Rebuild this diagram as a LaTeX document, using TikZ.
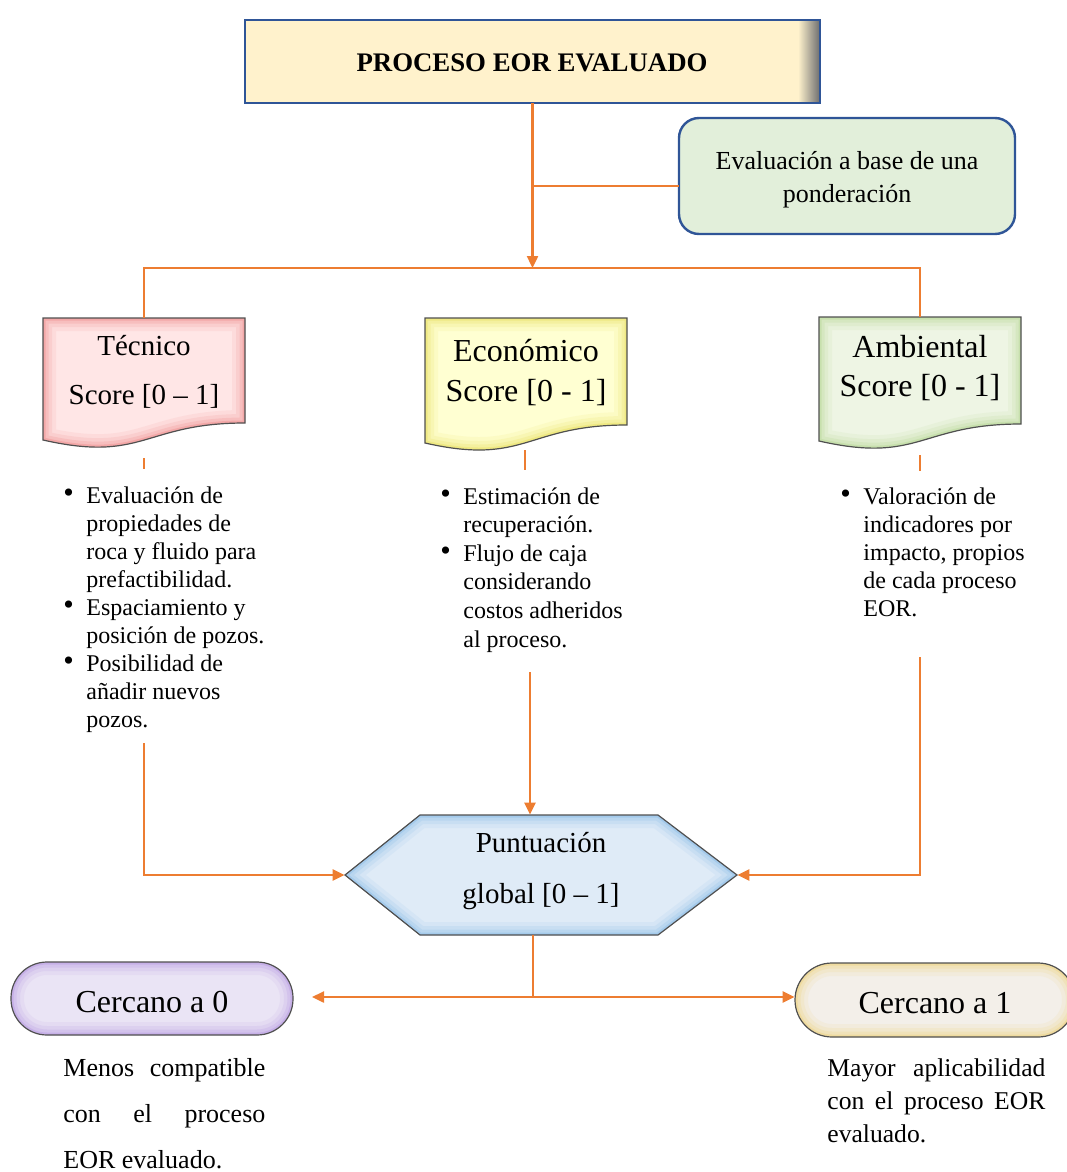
\documentclass[tikz,border=0pt]{standalone}
\usepackage{fontspec}
\setmainfont{Liberation Serif}
\usetikzlibrary{arrows.meta,fit,calc}
\definecolor{orng}{HTML}{ED7D31}
\definecolor{dblue}{HTML}{2F5597}
\definecolor{topfill}{HTML}{FFF2CC}
\definecolor{grnfill}{HTML}{E2EFDA}
\definecolor{tecfill}{HTML}{FFE6E6}
\definecolor{tecedge}{HTML}{EE8080}
\definecolor{ecofill}{HTML}{FFFFD2}
\definecolor{ecoedge}{HTML}{E6DC50}
\definecolor{ambfill}{HTML}{EEF5E4}
\definecolor{ambedge}{HTML}{AFD38A}
\definecolor{hexfill}{HTML}{DFEBF7}
\definecolor{hexedge}{HTML}{7FB6E6}
\definecolor{t0fill}{HTML}{EAE4F5}
\definecolor{t0edge}{HTML}{B08FE0}
\definecolor{t1fill}{HTML}{F3EFE9}
\definecolor{t1edge}{HTML}{EFCF70}
\definecolor{bgray}{HTML}{505050}
\newcommand\bevelshape[3]{%
  \fill[#2] #1;
  \begin{scope}
    \clip #1;
    \draw[#3, line width=13pt, opacity=.10] #1;
    \draw[#3, line width=9pt, opacity=.14] #1;
    \draw[#3, line width=5.5pt, opacity=.2] #1;
    \draw[#3, line width=2.5pt, opacity=.35] #1;
  \end{scope}
  \draw[bgray, line width=.6pt] #1;}
\newcommand\bitem[1]{\par\hangindent=12pt\hangafter=1\noindent\makebox[12pt][l]{\hspace{0.5pt}\raisebox{0.02em}{\fontsize{15}{15}\selectfont\textbullet}}#1\par}
\newcommand\bultext[2]{\parbox[t]{#1}{\raggedright #2}}
\tikzset{
  conn/.style={draw=orng, line width=1.2pt},
  arr/.style={conn, -{Triangle[length=6pt,width=5.5pt]}},
  ghost/.style={inner sep=0pt, draw=none},
  bul/.style={inner sep=0pt, font=\fontsize{12}{14}\selectfont},
  doctext/.style={inner sep=0pt, align=center},
}
\begin{document}
\begin{tikzpicture}[x=0.5pt,y=-0.5pt]
\useasboundingbox (0,0) rectangle (1066,1172);

% ---------- top box
\fill[topfill] (245,20) rectangle (820,103);
\shade[left color=topfill, right color=black!55] (798,21) rectangle (819,102);
\draw[dblue, line width=1.3pt] (245,20) rectangle (820,103);
\node[ghost, fit={(245,20) (820,103)}] (top) {};
\node[inner sep=0pt, anchor=base, font=\bfseries\fontsize{13.4}{15}\selectfont] (topN) at (532,72) {PROCESO EOR EVALUADO};

% ---------- green box
\draw[dblue, line width=1.2pt, fill=grnfill, rounded corners=10pt] (679,118) rectangle (1015,234);
\node[ghost, fit={(679,118) (1015,234)}] (grn) {};
\node[doctext, anchor=base, font=\fontsize{13}{16.5}\selectfont] (grnT) at (847,202) {Evaluación a base de una\\ponderación};

% ---------- document shapes
\bevelshape{(43,318) -- (245,318) -- (245,423) .. controls (144,423) and (144,463) .. (43,440) -- cycle}{tecfill}{tecedge}
\node[ghost, fit={(43,318) (245,449)}] (tec) {};
\node[doctext, anchor=base, font=\fontsize{14.5}{24.5}\selectfont] (tecN) at (144,404) {Técnico\\Score [0 – 1]};

\bevelshape{(425,318) -- (627,318) -- (627,425) .. controls (526,425) and (526,466) .. (425,443) -- cycle}{ecofill}{ecoedge}
\node[ghost, fit={(425,318) (627,452)}] (eco) {};
\node[doctext, anchor=base, font=\fontsize{16}{20}\selectfont] (ecoN) at (526,401) {Económico\\Score [0 - 1]};

\bevelshape{(819,317) -- (1021,317) -- (1021,424) .. controls (920,424) and (920,464) .. (819,441) -- cycle}{ambfill}{ambedge}
\node[ghost, fit={(819,317) (1021,450)}] (amb) {};
\node[doctext, anchor=base, font=\fontsize{16}{19.5}\selectfont] (ambN) at (920,396) {Ambiental\\Score [0 - 1]};

% ---------- hexagon
\bevelshape{(345,875) -- (420,815) -- (658,815) -- (737,875) -- (658,935) -- (420,935) -- cycle}{hexfill}{hexedge}
\node[ghost, fit={(345,815) (737,935)}] (hex) {};
\node[doctext, anchor=base, font=\fontsize{14.5}{25.5}\selectfont] (hexN) at (541,903) {Puntuación\\global [0 – 1]};

% ---------- terminators
\bevelshape{(11,962) [rounded corners=18pt] rectangle (293,1035)}{t0fill}{t0edge}
\node[ghost, fit={(11,962) (293,1035)}] (t0) {};
\node[doctext, anchor=base, font=\fontsize{16}{18}\selectfont] (t0N) at (152,1012) {Cercano a 0};

\bevelshape{(795,963) [rounded corners=18.5pt] rectangle (1075,1037)}{t1fill}{t1edge}
\node[ghost, fit={(795,963) (1075,1037)}] (t1) {};
\node[doctext, anchor=base, font=\fontsize{16}{18}\selectfont] (t1N) at (935,1013) {Cercano a 1};

% ---------- bullet texts
\node[bul, anchor=base west] (tecT) at (62,503)
 {\bultext{104pt}{\bitem{Evaluación de\newline propiedades de\newline roca y fluido para\newline prefactibilidad.}%
  \bitem{Espaciamiento y\newline posición de pozos.}%
  \bitem{Posibilidad de\newline añadir nuevos\newline pozos.}}};
\node[bul, anchor=base west, font=\fontsize{12}{14.3}\selectfont] (ecoT) at (439,504)
 {\bultext{96pt}{\bitem{Estimación de\newline recuperación.}%
  \bitem{Flujo de caja\newline considerando\newline costos adheridos\newline al proceso.}}};
\node[bul, anchor=base west] (ambT) at (839,504)
 {\bultext{96pt}{\bitem{Valoración de\newline indicadores por\newline impacto, propios\newline de cada proceso\newline EOR.}}};

% ---------- bottom texts
\node[bul, anchor=base west, font=\fontsize{13}{23}\selectfont] (t0T) at (63,1076)
 {\parbox[t]{101pt}{\hbox to 101pt{Menos\hfill compatible}\par\hbox to 101pt{con\hfill el\hfill proceso}\par\hbox{EOR evaluado.}}};
\node[bul, anchor=base west, font=\fontsize{12.8}{16.5}\selectfont] (t1T) at (827,1076)
 {\parbox[t]{109pt}{\hbox to 109pt{Mayor\hfill aplicabilidad}\par\hbox to 109pt{con\hfill el\hfill proceso\hfill EOR}\par\hbox{evaluado.}}};

% ---------- connectors
\coordinate (hub) at (532.5,268);
\coordinate (br) at (532.5,186);
\draw[arr] (top.south) -- (hub);
\draw[conn] (br) -- (br -| grn.west);
\draw[conn] (tec.north) |- (hub) -| (amb.north);

\coordinate (tecS1) at (144,458); \coordinate (tecS2) at (144,469);
\coordinate (ecoS1) at (525,450); \coordinate (ecoS2) at (525,470);
\coordinate (ambS1) at (920,455); \coordinate (ambS2) at (920,471);
\draw[conn] (tecS1) -- (tecS2);
\draw[conn] (ecoS1) -- (ecoS2);
\draw[conn] (ambS1) -- (ambS2);

\coordinate (tecL) at (144,743);
\coordinate (ecoL) at (530,672);
\coordinate (ambL) at (920,657);
\draw[arr] (tecL) |- (hex.west);
\draw[arr] (ecoL) -- (ecoL |- hex.north);
\draw[arr] (ambL) |- (hex.east);

\coordinate (hexB) at (533,935);
\coordinate (split) at (533,997);
\coordinate (t0arr) at (312,997);
\draw[conn] (hexB) -- (split);
\draw[arr] (split) -- (t0arr);
\draw[arr] (split) -- (split -| t1.west);
\end{tikzpicture}
\end{document}
